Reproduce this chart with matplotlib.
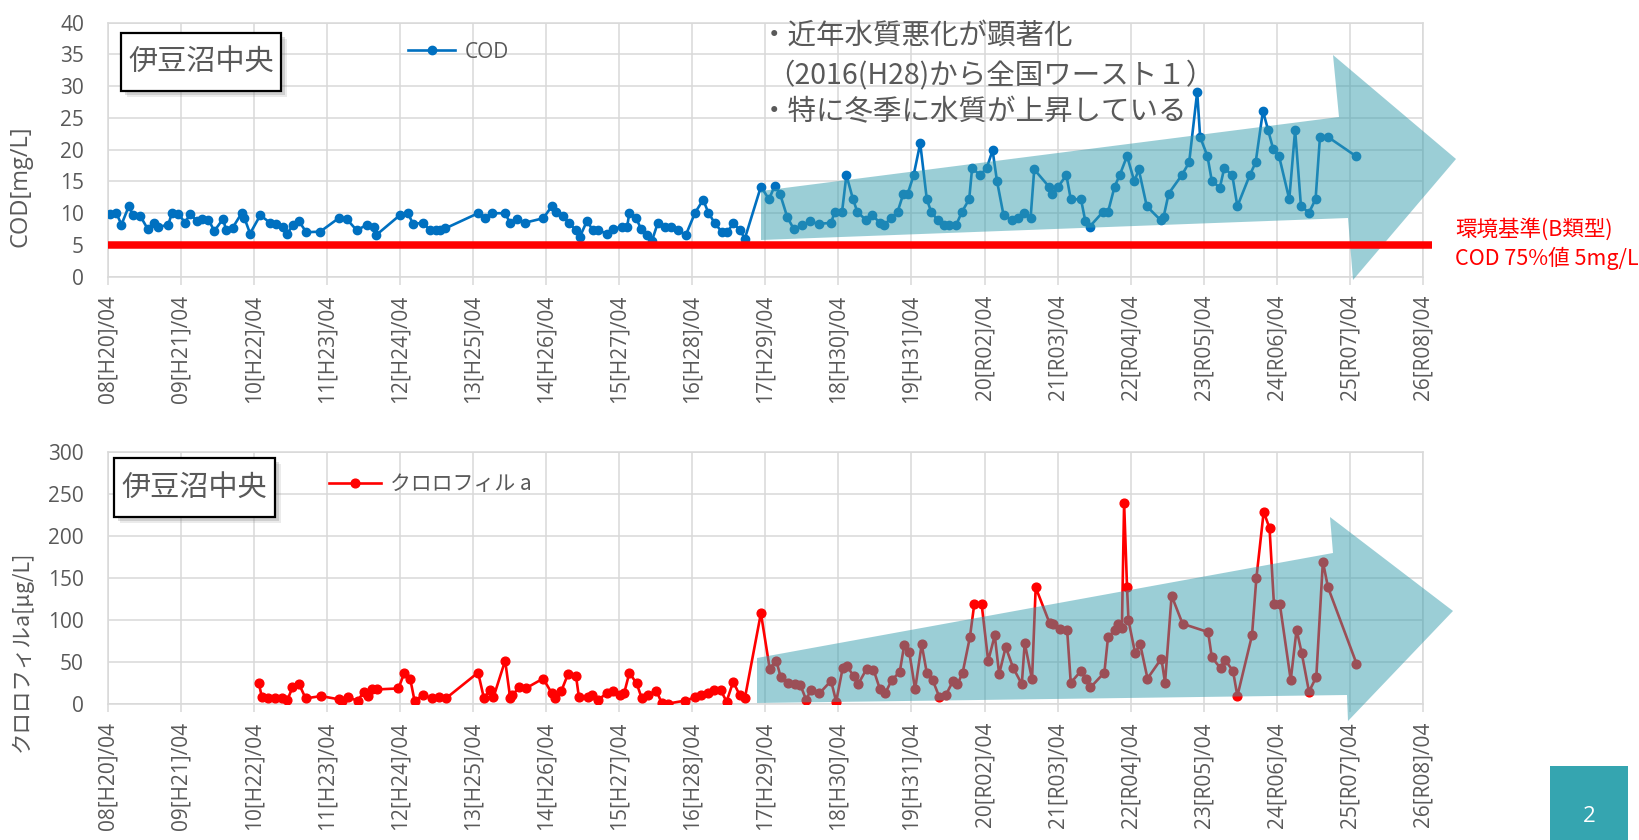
import matplotlib
matplotlib.use('Agg')
import matplotlib.pyplot as plt
from matplotlib.patches import Polygon, Rectangle
import numpy as np

plt.rcParams['font.family'] = ['Open Sans', 'Noto Sans CJK JP', 'DejaVu Sans']
JP = ['Noto Sans CJK JP', 'DejaVu Sans']
GRAY = '#595959'
GRID = '#D9D9D9'

# ---------------- data (decimal year, value) ----------------
cod_t = [2008.28, 2008.37, 2008.44, 2008.54, 2008.60, 2008.70, 2008.80, 2008.88, 2008.94,
         2009.08, 2009.13, 2009.22, 2009.31, 2009.38, 2009.47, 2009.54, 2009.63, 2009.71, 2009.83, 2009.87, 2009.96,
         2010.09, 2010.12, 2010.20, 2010.34, 2010.47, 2010.56, 2010.65, 2010.71, 2010.79, 2010.87, 2010.97,
         2011.16, 2011.41, 2011.52, 2011.66, 2011.80, 2011.89, 2011.92,
         2012.25, 2012.36, 2012.43, 2012.57, 2012.66, 2012.75, 2012.80, 2012.87,
         2013.32, 2013.41, 2013.51, 2013.69, 2013.76, 2013.85, 2013.96,
         2014.21, 2014.33, 2014.39, 2014.48, 2014.56, 2014.66, 2014.71, 2014.81, 2014.89, 2014.96,
         2015.08, 2015.17, 2015.29, 2015.36, 2015.39, 2015.48, 2015.55, 2015.63, 2015.70, 2015.78, 2015.88, 2015.96,
         2016.06, 2016.16, 2016.29, 2016.40, 2016.47, 2016.56, 2016.66, 2016.73, 2016.81, 2016.90, 2016.97,
         2017.19, 2017.30, 2017.38, 2017.45, 2017.55, 2017.64, 2017.75, 2017.86, 2017.98,
         2018.15, 2018.20, 2018.30, 2018.36, 2018.45, 2018.51, 2018.63, 2018.71, 2018.82, 2018.87, 2018.97,
         2019.06, 2019.14, 2019.20, 2019.28, 2019.37, 2019.46, 2019.52, 2019.61, 2019.70, 2019.76, 2019.86, 2019.94,
         2020.04, 2020.08, 2020.19, 2020.28, 2020.36, 2020.42, 2020.51, 2020.62, 2020.71, 2020.79, 2020.88, 2020.93,
         2021.13, 2021.18, 2021.26, 2021.37, 2021.43, 2021.57, 2021.63, 2021.69, 2021.87, 2021.94,
         2022.03, 2022.10, 2022.20, 2022.30, 2022.36, 2022.47, 2022.66, 2022.70, 2022.77, 2022.95,
         2023.05, 2023.16, 2023.20, 2023.30, 2023.36, 2023.47, 2023.53, 2023.64, 2023.71, 2023.88, 2023.96,
         2024.06, 2024.13, 2024.20, 2024.28, 2024.42, 2024.50, 2024.58, 2024.69, 2024.78, 2024.84, 2024.95,
         2025.33]
cod_v = [9.8, 10.0, 8.2, 11.1, 9.7, 9.5, 7.5, 8.5, 7.8,
         8.2, 10.0, 9.9, 8.5, 9.9, 8.8, 9.1, 9.0, 7.2, 9.1, 7.4, 7.7,
         10.1, 9.3, 6.8, 9.7, 8.5, 8.3, 7.9, 6.8, 8.2, 8.7, 7.0,
         7.1, 9.2, 9.1, 7.3, 8.2, 7.8, 6.5,
         9.7, 10.0, 8.3, 8.5, 7.3, 7.3, 7.4, 7.6,
         10.0, 9.3, 10.0, 10.0, 8.4, 9.1, 8.5,
         9.2, 11.1, 10.2, 9.6, 8.5, 7.3, 6.2, 8.8, 7.3, 7.3,
         6.8, 7.5, 7.9, 7.9, 10.1, 9.3, 7.5, 6.5, 5.7, 8.5, 7.8, 7.9,
         7.3, 6.5, 10.1, 12.1, 10.1, 8.4, 7.0, 7.0, 8.4, 7.4, 6.0,
         14.2, 12.2, 14.3, 13.1, 9.4, 7.5, 8.1, 8.7, 8.3,
         8.5, 10.2, 10.2, 16.0, 12.2, 10.2, 8.9, 9.7, 8.5, 8.1, 9.2,
         10.2, 13.1, 13.1, 16.0, 21.0, 12.2, 10.2, 8.9, 8.1, 8.1, 8.1, 10.2,
         12.2, 17.1, 16.0, 17.1, 19.9, 15.1, 9.7, 8.9, 9.2, 10.1, 9.2, 16.9,
         14.2, 13.1, 14.2, 16.0, 12.2, 12.2, 8.7, 7.9, 10.2, 10.2,
         14.2, 16.0, 19.0, 15.0, 16.9, 11.1, 8.9, 9.4, 13.1, 16.0,
         18.0, 29.1, 22.0, 19.0, 15.1, 14.0, 17.1, 16.0, 11.1, 16.0, 18.0,
         26.1, 23.1, 20.1, 19.0, 12.2, 23.1, 11.1, 10.1, 12.2, 22.0, 22.0,
         19.0]

chl_t = [2010.32, 2010.36, 2010.45, 2010.54, 2010.63, 2010.71, 2010.78, 2010.87, 2010.96,
         2011.17, 2011.42, 2011.46, 2011.54, 2011.67, 2011.76, 2011.82, 2011.87, 2011.93,
         2012.23, 2012.31, 2012.39, 2012.45, 2012.57, 2012.69, 2012.79, 2012.88,
         2013.32, 2013.40, 2013.48, 2013.53, 2013.69, 2013.76, 2013.79, 2013.88, 2013.97,
         2014.21, 2014.33, 2014.37, 2014.46, 2014.55, 2014.66, 2014.70, 2014.82, 2014.88, 2014.96,
         2015.09, 2015.16, 2015.26, 2015.32, 2015.39, 2015.49, 2015.56, 2015.64, 2015.76, 2015.83, 2015.92,
         2016.15, 2016.29, 2016.37, 2016.46, 2016.55, 2016.64, 2016.72, 2016.81, 2016.90, 2016.97,
         2017.19, 2017.31, 2017.40, 2017.46, 2017.56, 2017.66, 2017.73, 2017.81, 2017.87, 2017.99,
         2018.15, 2018.22, 2018.31, 2018.37, 2018.46, 2018.52, 2018.64, 2018.73, 2018.82, 2018.89, 2018.98,
         2019.09, 2019.15, 2019.22, 2019.30, 2019.39, 2019.46, 2019.54, 2019.63, 2019.72, 2019.82, 2019.88, 2019.95,
         2020.05, 2020.11, 2020.21, 2020.30, 2020.39, 2020.45, 2020.54, 2020.64, 2020.76, 2020.80, 2020.90, 2020.95,
         2021.14, 2021.19, 2021.28, 2021.38, 2021.43, 2021.57, 2021.64, 2021.70, 2021.89, 2021.94,
         2022.04, 2022.07, 2022.13, 2022.16, 2022.20, 2022.22, 2022.31, 2022.38, 2022.48, 2022.67, 2022.72, 2022.81, 2022.96,
         2023.31, 2023.36, 2023.48, 2023.54, 2023.65, 2023.71, 2023.91, 2023.97,
         2024.07, 2024.15, 2024.21, 2024.29, 2024.44, 2024.52, 2024.59, 2024.69, 2024.79, 2024.88, 2024.95,
         2025.34]
chl_v = [24.4, 8.7, 6.7, 6.7, 6.7, 4.8, 19.7, 23.6, 6.7,
         9.4, 5.5, 4.0, 7.9, 4.0, 14.6, 9.4, 17.3, 17.3,
         18.5, 37.0, 30.3, 4.0, 10.6, 6.7, 8.7, 6.7,
         37.4, 6.7, 16.5, 7.9, 51.6, 6.7, 10.6, 19.7, 18.5,
         30.3, 12.6, 6.7, 15.8, 35.5, 33.1, 7.9, 7.9, 10.6, 4.8,
         13.4, 15.8, 10.6, 13.4, 37.0, 24.4, 6.7, 10.6, 15.8, 1.6, 0.5,
         4.0, 7.9, 10.6, 13.4, 16.5, 16.5, 2.8, 26.4, 10.6, 6.7,
         108.0, 42.2, 51.6, 32.2, 25.1, 23.6, 22.5, 4.8, 16.5, 12.6,
         27.6, 2.8, 43.3, 44.9, 33.0, 23.6, 42.2, 41.0, 17.3, 12.6, 28.4,
         38.2, 69.7, 61.8, 17.3, 70.9, 37.0, 28.4, 8.7, 10.6, 27.6, 23.6, 37.0,
         79.6, 119.0, 119.0, 51.2, 81.6, 35.5, 67.8, 43.3, 23.6, 72.5, 29.2, 138.7,
         96.2, 95.4, 89.5, 88.3, 25.2, 39.4, 29.2, 19.7, 37.4, 79.6,
         88.3, 94.6, 90.7, 239.2, 138.7, 99.3, 60.7, 71.0, 30.3, 54.0, 25.3, 128.8, 95.4,
         85.5, 55.5, 42.5, 52.3, 39.4, 9.5, 81.6, 149.8,
         228.6, 209.0, 119.2, 119.2, 28.5, 88.3, 60.7, 14.6, 32.3, 169.4, 138.7,
         48.1]

tick_years = list(range(2008, 2027))
tick_labels = ['08[H20]/04', '09[H21]/04', '10[H22]/04', '11[H23]/04', '12[H24]/04',
               '13[H25]/04', '14[H26]/04', '15[H27]/04', '16[H28]/04', '17[H29]/04',
               '18[H30]/04', '19[H31]/04', '20[R02]/04', '21[R03]/04', '22[R04]/04',
               '23[R05]/04', '24[R06]/04', '25[R07]/04', '26[R08]/04']
cod_standard = 5

# ---------------- figure ----------------
W, H = 1639, 840
fig = plt.figure(figsize=(W / 100, H / 100), dpi=100)
fig.patch.set_facecolor('white')


def P(x, y):
    return (x / W, 1 - y / H)


ax1 = fig.add_axes([107.6 / W, 1 - 276.7 / H, 1315.4 / W, 254.0 / H])
ax2 = fig.add_axes([107.6 / W, 1 - 704.0 / H, 1315.4 / W, 252.3 / H])

tick_x = [y + 0.25 for y in tick_years]


def style(ax, ymax, ystep):
    ax.set_xlim(tick_x[0], tick_x[-1])
    ax.set_ylim(0, ymax)
    ax.set_xticks(tick_x)
    ax.set_xticklabels(tick_labels, rotation=90, fontsize=15, color=GRAY)
    ax.set_yticks(np.arange(0, ymax + 1, ystep))
    ax.tick_params(axis='y', length=0, pad=17, labelsize=15, labelcolor=GRAY)
    ax.tick_params(axis='x', length=6, width=1.1, color=GRID, pad=7)
    ax.grid(True, color=GRID, lw=1.1)
    ax.set_axisbelow(True)
    for s in ax.spines.values():
        s.set_color(GRID)
        s.set_linewidth(1.1)


style(ax1, 40, 5)
style(ax2, 300, 50)

l1, = ax1.plot(cod_t, cod_v, color='#0070C0', lw=1.9, marker='o', ms=6, label='COD', zorder=3)
l2, = ax2.plot(chl_t, chl_v, color='#FF0000', lw=1.9, marker='o', ms=6.3, label='クロロフィル a', zorder=3)

# axis titles
fig.text(*P(20, 186), 'COD[mg/L]', fontsize=17, color=GRAY, rotation=90, ha='center', va='center')
fig.text(*P(22, 651), 'クロロフィルa[μg/L]', fontsize=15.5, color=GRAY, rotation=90,
         ha='center', va='center', family=JP)

ax1.legend(handles=[l1], loc='center left', bbox_to_anchor=P(408, 52), bbox_transform=fig.transFigure,
           frameon=False, borderpad=0, borderaxespad=0, handlelength=2.27, handletextpad=0.45,
           prop={'size': 15}, labelcolor=GRAY)
ax2.legend(handles=[l2], loc='center left', bbox_to_anchor=P(329, 484), bbox_transform=fig.transFigure,
           frameon=False, borderpad=0, borderaxespad=0, handlelength=2.5, handletextpad=0.45,
           prop={'family': JP, 'size': 15}, labelcolor=GRAY)

# trend arrows (decorative, drawn over the data)
ARROW = '#399EAE'
top_arrow = [P(761, 191), P(1339, 117), P(1333, 55), P(1456, 159), P(1353, 280), P(1348, 218), P(761, 240)]
bot_arrow = [P(757, 658), P(1333, 553), P(1330, 517), P(1453, 611), P(1348, 721), P(1347, 695), P(757, 703)]
for ax, pts in ((ax1, top_arrow), (ax2, bot_arrow)):
    poly = Polygon(pts, closed=True, transform=fig.transFigure, facecolor=ARROW, alpha=0.5,
                   edgecolor='none', zorder=4, clip_on=False)
    ax.add_artist(poly)

# environmental standard line
ax1.plot([tick_x[0], tick_x[-1] + 0.12], [cod_standard, cod_standard], color='#FF0000', lw=5.4,
         solid_capstyle='butt', clip_on=False, zorder=5)
fig.text(*P(1455, 229), '環境基準(B類型)', color='#FF0000', fontsize=15.5, va='center', family=JP)
fig.text(*P(1455, 258), 'COD 75%値 5mg/L', color='#FF0000', fontsize=15.5, va='center', family=JP)

# annotation text
for x, y, s in ((760, 36, '・近年水質悪化が顕著化'), (766, 76, '（2016(H28)から全国ワースト１）'),
                (760, 112, '・特に冬季に水質が上昇している')):
    fig.text(*P(x, y), s, color=GRAY, fontsize=20.5, va='center', family=JP)

# station label boxes with shadow
for (x0, y0, x1, y1) in ((121, 33, 281, 91), (114, 458, 275, 517)):
    w, h = (x1 - x0) / W, (y1 - y0) / H
    for off, a in ((6, 0.15), (4, 0.25)):
        fig.add_artist(Rectangle(P(x0 + off, y1 + off), w, h, transform=fig.transFigure,
                                 facecolor='#7F7F7F', edgecolor='none', alpha=a, zorder=5))
    fig.add_artist(Rectangle(P(x0, y1), w, h, transform=fig.transFigure, facecolor='white',
                             edgecolor='black', lw=1.6, zorder=6))
    fig.text(*P((x0 + x1) / 2, (y0 + y1) / 2), '伊豆沼中央', fontsize=21, color=GRAY,
             ha='center', va='center', family=JP, zorder=7)

# page number
fig.add_artist(Rectangle(P(1550, 840), 78 / W, 74 / H, transform=fig.transFigure,
                         facecolor='#35A5B0', edgecolor='none', zorder=5))
fig.text(*P(1589, 817), '2', color='white', fontsize=16, ha='center', va='center', zorder=6)

fig.savefig('out.png', dpi=100)
